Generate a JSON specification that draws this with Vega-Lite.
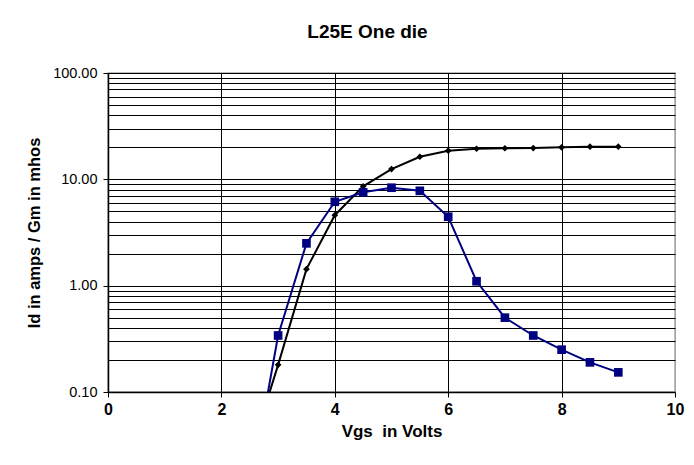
{
  "$schema": "https://vega.github.io/schema/vega-lite/v6.json",
  "autosize": "none",
  "width": 567,
  "height": 319,
  "padding": {"left": 108, "top": 73, "right": 19, "bottom": 73},
  "background": "white",
  "config": {
    "view": {"stroke": "#a6a6a6", "strokeWidth": 1.5},
    "font": "Liberation Sans"
  },
  "title": {
    "text": "L25E One die",
    "fontSize": 19,
    "fontWeight": "bold",
    "font": "Liberation Sans",
    "color": "black",
    "anchor": "middle",
    "dx": -24,
    "offset": 23
  },
  "data": {
    "values": [
      {"x": 2.5, "v": 0.025, "s": "Id"},
      {"x": 3.0, "v": 0.18, "s": "Id"},
      {"x": 3.5, "v": 1.43, "s": "Id"},
      {"x": 4.0, "v": 4.6, "s": "Id"},
      {"x": 4.5, "v": 8.6, "s": "Id"},
      {"x": 5.0, "v": 12.5, "s": "Id"},
      {"x": 5.5, "v": 16.3, "s": "Id"},
      {"x": 6.0, "v": 18.6, "s": "Id"},
      {"x": 6.5, "v": 19.4, "s": "Id"},
      {"x": 7.0, "v": 19.6, "s": "Id"},
      {"x": 7.5, "v": 19.7, "s": "Id"},
      {"x": 8.0, "v": 20.0, "s": "Id"},
      {"x": 8.5, "v": 20.3, "s": "Id"},
      {"x": 9.0, "v": 20.3, "s": "Id"},
      {"x": 2.5, "v": 0.011, "s": "Gm"},
      {"x": 3.0, "v": 0.34, "s": "Gm"},
      {"x": 3.5, "v": 2.5, "s": "Gm"},
      {"x": 4.0, "v": 6.15, "s": "Gm"},
      {"x": 4.5, "v": 7.55, "s": "Gm"},
      {"x": 5.0, "v": 8.34, "s": "Gm"},
      {"x": 5.5, "v": 7.8, "s": "Gm"},
      {"x": 6.0, "v": 4.45, "s": "Gm"},
      {"x": 6.5, "v": 1.1, "s": "Gm"},
      {"x": 7.0, "v": 0.5, "s": "Gm"},
      {"x": 7.5, "v": 0.34, "s": "Gm"},
      {"x": 8.0, "v": 0.25, "s": "Gm"},
      {"x": 8.5, "v": 0.19, "s": "Gm"},
      {"x": 9.0, "v": 0.153, "s": "Gm"}
    ]
  },
  "encoding": {
    "x": {
      "field": "x",
      "type": "quantitative",
      "scale": {"domain": [0, 10], "nice": false},
      "axis": {
        "title": "Vgs\u00a0 in Volts",
        "values": [0, 2, 4, 6, 8, 10],
        "format": "d",
        "grid": true,
        "gridColor": {"condition": {"test": "datum.value == 10", "value": "#a6a6a6"}, "value": "black"},
        "gridOpacity": {"condition": {"test": "datum.value == 0", "value": 0}, "value": 1},
        "gridWidth": 1,
        "domainColor": "black",
        "domainWidth": 1.5,
        "tickColor": "black",
        "tickSize": 5,
        "labelFlush": false,
        "labelFontSize": 16,
        "labelFontWeight": "bold",
        "labelColor": "black",
        "labelPadding": 4,
        "labelFont": "Liberation Sans",
        "titleFontSize": 17,
        "titleFontWeight": "bold",
        "titleColor": "black",
        "titlePadding": 6,
        "titleFont": "Liberation Sans"
      }
    },
    "y": {
      "field": "v",
      "type": "quantitative",
      "scale": {"type": "log", "domain": [0.1, 100], "nice": false},
      "axis": {
        "title": "Id in amps / Gm in mhos",
        "values": [0.1, 0.2, 0.3, 0.4, 0.5, 0.6, 0.7, 0.8, 0.9, 1, 2, 3, 4, 5, 6, 7, 8, 9, 10, 20, 30, 40, 50, 60, 70, 80, 90, 100],
        "labelExpr": "indexof([0.1, 1, 10, 100], datum.value) >= 0 ? format(datum.value, '.2f') : ''",
        "grid": true,
        "gridColor": "black",
        "gridWidth": 1,
        "domainColor": "black",
        "domainWidth": 1.5,
        "tickColor": "black",
        "tickSize": 5,
        "tickOpacity": {"condition": {"test": "indexof([0.1, 1, 10, 100], datum.value) >= 0", "value": 1}, "value": 0},
        "labelFontSize": 14.5,
        "labelColor": "black",
        "labelPadding": 6,
        "labelFont": "Liberation Sans",
        "titleFontSize": 16.5,
        "titleFontWeight": "bold",
        "titleColor": "black",
        "titlePadding": 10,
        "titleFont": "Liberation Sans"
      }
    }
  },
  "layer": [
    {
      "transform": [{"filter": "datum.s == 'Id'"}],
      "mark": {"type": "line", "color": "black", "strokeWidth": 2, "clip": true,
        "point": {"shape": "diamond", "filled": true, "color": "black", "size": 45}}
    },
    {
      "transform": [{"filter": "datum.s == 'Gm'"}],
      "mark": {"type": "line", "color": "#000080", "strokeWidth": 2, "clip": true,
        "point": {"shape": "square", "filled": true, "color": "#000080", "size": 75}}
    }
  ]
}
